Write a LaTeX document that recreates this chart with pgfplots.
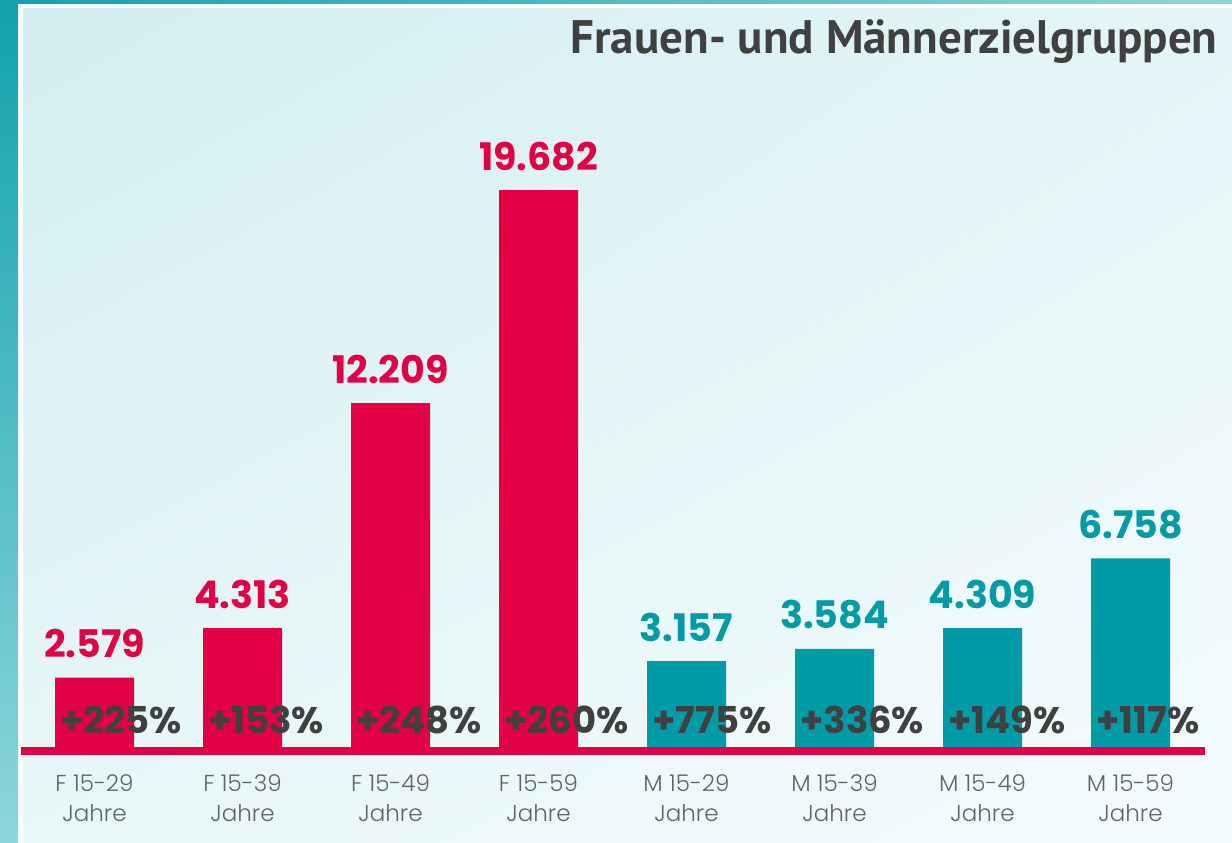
\documentclass[border=0pt]{standalone}
\usepackage{pgfplots}
\pgfplotsset{compat=1.18}
\usepackage{pgfplotstable}
\usetikzlibrary{shadings}
\usepackage{fontspec}
\setmainfont{Poppins}
\newfontfamily\titlefont{PT Sans}
\newfontfamily\lightfont{Poppins Light}
\definecolor{myred}{HTML}{E10045}
\definecolor{myteal}{HTML}{009BA6}
\definecolor{dark}{HTML}{404040}
\definecolor{ticktxt}{HTML}{636363}
\definecolor{bgA}{RGB}{211,238,240}
\definecolor{bgB}{RGB}{228,245,247}
\definecolor{bgC}{RGB}{232,247,248}
\definecolor{bgD}{RGB}{245,252,253}
\definecolor{stripA}{RGB}{18,162,172}
\definecolor{stripB}{RGB}{141,214,220}

\pgfplotstableread{
x y z lab pct
0 2.579 0 2.579 +225\%
1 4.313 0 4.313 +153\%
2 12.209 0 12.209 +248\%
3 19.682 0 19.682 +260\%
}\fdata
\pgfplotstableread{
x y z lab pct
4 3.157 0 3.157 +775\%
5 3.584 0 3.584 +336\%
6 4.309 0 4.309 +149\%
7 6.758 0 6.758 +117\%
}\mdata

\begin{document}
\begin{tikzpicture}[x=1pt,y=1pt]
% background
\fill[white] (0,0) rectangle (616,421);
\shade[top color=stripA, bottom color=stripB] (0,0) rectangle (9,421);
\shade[left color=stripA, right color=stripB] (0,419) rectangle (616,421);
\shade[upper left=bgA, upper right=bgB, lower left=bgC, lower right=bgD]
       (11.5,0) rectangle (616,416.5);
\node[anchor=base east, text=dark, font=\titlefont\bfseries\fontsize{23.5}{26}\selectfont, inner sep=0pt]
  at (609,394) {Frauen- und Männerzielgruppen};

\begin{axis}[
  at={(10.25pt,45.5pt)}, anchor=south west,
  x=74pt, y=14.25pt,
  xmin=-0.5, xmax=7.5, ymin=0, ymax=25,
  axis x line*=bottom, axis y line=none,
  x axis line style={draw=none},
  major tick length=0pt,
  xtick={0,...,7},
  xticklabels={{F 15-29\\Jahre},{F 15-39\\Jahre},{F 15-49\\Jahre},{F 15-59\\Jahre},
               {M 15-29\\Jahre},{M 15-39\\Jahre},{M 15-49\\Jahre},{M 15-59\\Jahre}},
  xticklabel style={align=center, text=ticktxt, font=\lightfont\fontsize{11.5}{15}\selectfont, yshift=-8.5pt},
  clip=false,
]
\addplot[ybar, bar width=39.5pt, bar shift=0pt, fill=myred, draw=none,
  nodes near coords, point meta=explicit symbolic,
  nodes near coords style={anchor=base, yshift=10pt, text=myred, font=\bfseries\fontsize{19}{22}\selectfont}]
  table[x=x, y=y, meta=lab] {\fdata};
\addplot[ybar, bar width=39.5pt, bar shift=0pt, fill=myteal, draw=none,
  nodes near coords, point meta=explicit symbolic,
  nodes near coords style={anchor=base, yshift=10pt, text=myteal, font=\bfseries\fontsize{19}{22}\selectfont}]
  table[x=x, y=y, meta=lab] {\mdata};
\draw[myred, line width=4pt] (axis cs:-0.5,0) -- (axis cs:7.5,0);
\addplot[draw=none, mark=none, nodes near coords, point meta=explicit symbolic,
  nodes near coords style={anchor=base west, inner sep=0pt, xshift=-17.25pt, yshift=9pt, text=dark, font=\bfseries\fontsize{18.5}{22}\selectfont}]
  table[x=x, y=z, meta=pct] {\fdata};
\addplot[draw=none, mark=none, nodes near coords, point meta=explicit symbolic,
  nodes near coords style={anchor=base west, inner sep=0pt, xshift=-17.25pt, yshift=9pt, text=dark, font=\bfseries\fontsize{18.5}{22}\selectfont}]
  table[x=x, y=z, meta=pct] {\mdata};
\end{axis}
\pgfresetboundingbox
\path[use as bounding box] (0,0) rectangle (616,421);
\end{tikzpicture}
\end{document}
